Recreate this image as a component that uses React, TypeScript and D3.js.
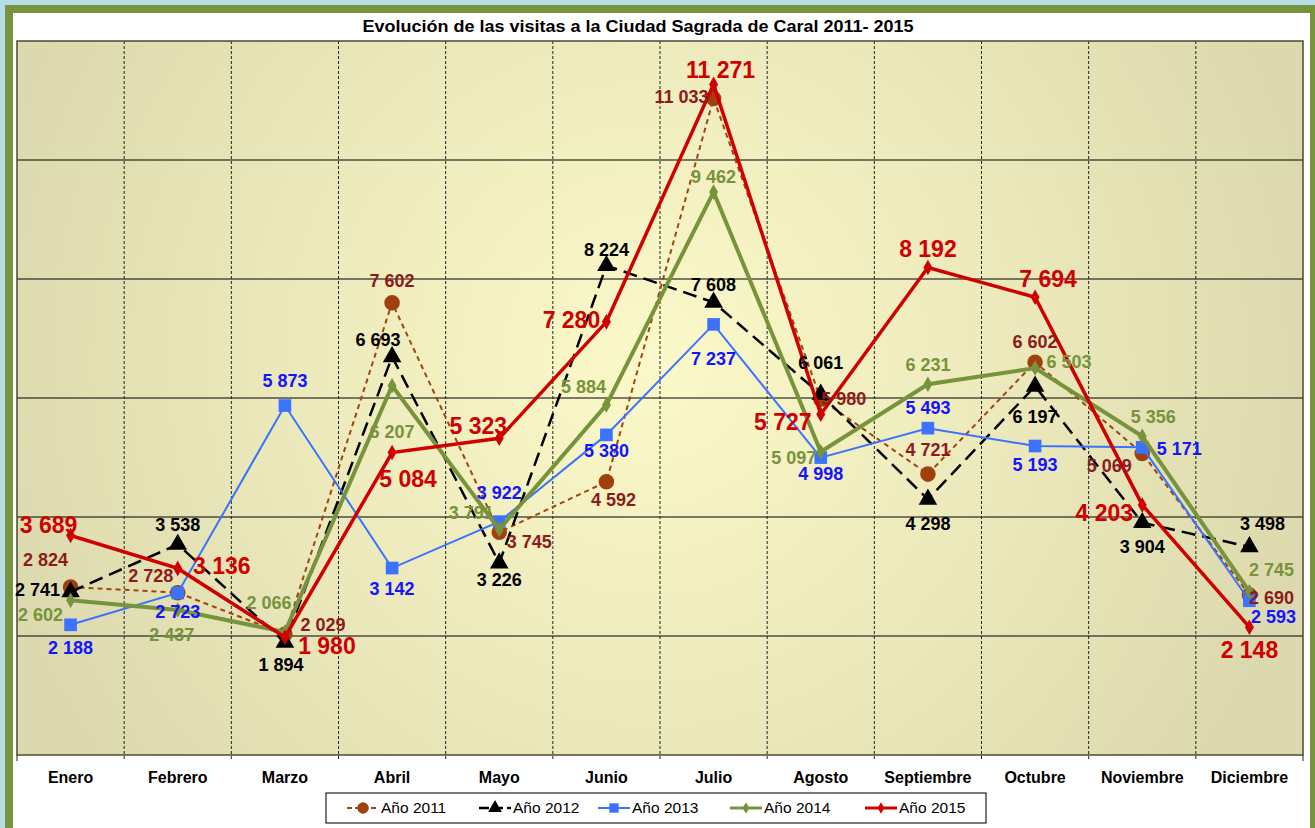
import * as React from 'react';
import * as d3 from 'd3';

const months = ['Enero', 'Febrero', 'Marzo', 'Abril', 'Mayo', 'Junio', 'Julio', 'Agosto', 'Septiembre', 'Octubre', 'Noviembre', 'Diciembre'];

const visits2011 = [2824, 2728, 2029, 7602, 3745, 4592, 11033, 5980, 4721, 6602, 5069, 2690];
const visits2012 = [2741, 3538, 1894, 6693, 3226, 8224, 7608, 6061, 4298, 6197, 3904, 3498];
const visits2013 = [2188, 2723, 5873, 3142, 3922, 5380, 7237, 4998, 5493, 5193, 5171, 2593];
const visits2014 = [2602, 2437, 2066, 6207, 3791, 5884, 9462, 5097, 6231, 6503, 5356, 2745];
const visits2015 = [3689, 3136, 1980, 5084, 5323, 7280, 11271, 5727, 8192, 7694, 4203, 2148];

const seriesNames = ['Año 2011', 'Año 2012', 'Año 2013', 'Año 2014', 'Año 2015'];
const yTicks = [2000, 4000, 6000, 8000, 10000];

const title = 'Evolución de las visitas a la Ciudad Sagrada de Caral 2011- 2015';

// label nudges in px, [dx, dy] relative to the marker
const labelNudge: number[][][] = [
    [[-25, -27], [-27, -17], [38, -10], [0, -22], [30, 10], [7, 18], [-32, -2], [23, 0], [0, -24], [0, -20], [-33, 12], [22, 3]],
    [[-33, -2], [0, -20], [-4, 22], [-14, -17], [0, 17], [0, -16], [0, -18], [0, -32], [0, 24], [0, 30], [0, 24], [13, -23]],
    [[0, 23], [0, 19], [0, -25], [0, 21], [0, -29], [0, 16], [0, 34], [0, 16], [0, -20], [0, 19], [37, 1], [24, 16]],
    [[-30, 15], [-6, 25], [-16, -29], [0, 46], [-28, -17], [-23, -18], [0, -15], [-27, 6], [0, -20], [34, -6], [11, -20], [22, -22]],
    [[-22, -11], [44, -2], [42, 9], [16, 26], [-21, -12], [-35, -2], [7, -14], [-38, 8], [0, -19], [13, -18], [-38, 8], [0, 23]],
];

const plot = { left: 17, right: 1303, top: 41, bottom: 755 };

type Style = {
    stroke: string, width: number, dash?: string, label: string, fontSize: number,
    marker: 'circle' | 'triangle' | 'square' | 'diamond', markerFill: string, markerSize: number,
};

const styles: Style[] = [
    { stroke: '#a24410', width: 2, dash: '5,4', label: '#8c1c1c', fontSize: 18, marker: 'circle', markerFill: '#a0410d', markerSize: 190 },
    { stroke: '#000000', width: 2.5, dash: '14,7', label: '#000000', fontSize: 18, marker: 'triangle', markerFill: '#000000', markerSize: 150 },
    { stroke: '#3b73ff', width: 2, label: '#1414ff', fontSize: 18, marker: 'square', markerFill: '#3b73ff', markerSize: 160 },
    { stroke: '#77933c', width: 4, label: '#77933c', fontSize: 18, marker: 'diamond', markerFill: '#77933c', markerSize: 70 },
    { stroke: '#d00000', width: 3.5, label: '#d00000', fontSize: 23, marker: 'diamond', markerFill: '#d00000', markerSize: 70 },
];

const symbolFor = (m: Style['marker']) =>
    m === 'circle' ? d3.symbolCircle : m === 'triangle' ? d3.symbolTriangle : m === 'square' ? d3.symbolSquare : d3.symbolDiamond;

const fmt = (v: number) => d3.format(',')(v).replace(/,/g, ' ');

export default function App() {
    const allSeries = [visits2011, visits2012, visits2013, visits2014, visits2015];

    const x = d3.scaleBand<string>().domain(months).range([plot.left, plot.right]);
    const y = d3.scaleLinear().domain([0, 12000]).range([plot.bottom, plot.top]);
    const cx = (i: number) => (x(months[i]) || 0) + x.bandwidth() / 2;

    const line = d3.line<number>()
        .x((_, i) => cx(i))
        .y(d => y(d));

    const legendX = [347, 479, 598, 730, 865];
    const font = '"Liberation Sans", Arial, sans-serif';

    return (
        <svg width={1315} height={828} style={{ position: 'absolute', left: 0, top: 0, fontFamily: font }}>
            <defs>
                <radialGradient id="bg" gradientUnits="userSpaceOnUse" cx={650} cy={360} r={680}>
                    <stop offset="0" stopColor="#fbf9c9" />
                    <stop offset="0.55" stopColor="#ebe8bb" />
                    <stop offset="1" stopColor="#dcd9ae" />
                </radialGradient>
            </defs>
            <rect x={0} y={0} width={1315} height={828} fill="#b5dce7" />
            <rect x={9} y={9} width={1305} height={900} fill="#ffffff" stroke="#77933c" strokeWidth={8} />

            <text x={638} y={32} textAnchor="middle" fontSize={17} fontWeight="bold" textLength={551} lengthAdjust="spacingAndGlyphs">{title}</text>

            <rect x={plot.left} y={plot.top} width={plot.right - plot.left} height={plot.bottom - plot.top} fill="url(#bg)" />

            {yTicks.map(t => (
                <line key={t} x1={plot.left} x2={plot.right} y1={y(t)} y2={y(t)} stroke="#000" strokeWidth={1} />
            ))}
            {months.slice(1).map(m => (
                <line key={m} x1={x(m)} x2={x(m)} y1={plot.top} y2={plot.bottom + 6} stroke="#222" strokeWidth={1} strokeDasharray="3,2" />
            ))}
            <line x1={plot.left} x2={plot.left} y1={plot.bottom} y2={plot.bottom + 6} stroke="#222" />
            <line x1={plot.right} x2={plot.right} y1={plot.bottom} y2={plot.bottom + 6} stroke="#222" />
            <rect x={plot.left} y={plot.top} width={plot.right - plot.left} height={plot.bottom - plot.top} fill="none" stroke="#4b4a30" strokeWidth={1.5} />

            {months.map(m => (
                <text key={m} x={(x(m) || 0) + x.bandwidth() / 2} y={783} textAnchor="middle" fontSize={16} fontWeight="bold">{m}</text>
            ))}

            {allSeries.map((vals, s) => (
                <g key={s}>
                    <path d={line(vals) || ''} fill="none" stroke={styles[s].stroke} strokeWidth={styles[s].width} strokeDasharray={styles[s].dash} />
                    {vals.map((v, i) => (
                        <path key={i} transform={`translate(${cx(i)},${y(v)})`} d={d3.symbol(symbolFor(styles[s].marker), styles[s].markerSize)() || ''} fill={styles[s].markerFill} />
                    ))}
                </g>
            ))}

            {allSeries.map((vals, s) => (
                <g key={'l' + s} fontWeight="bold" fontSize={styles[s].fontSize} fill={styles[s].label} textAnchor="middle">
                    {vals.map((v, i) => (
                        <text key={i} x={cx(i) + labelNudge[s][i][0]} y={y(v) + labelNudge[s][i][1]} dy="0.35em">{fmt(v)}</text>
                    ))}
                </g>
            ))}

            <rect x={326} y={793} width={660} height={30} fill="#fff" stroke="#222" strokeWidth={1.2} />
            {seriesNames.map((n, s) => (
                <g key={n} transform={`translate(${legendX[s]},808)`}>
                    <line x1={0} x2={32} y1={0} y2={0} stroke={styles[s].stroke} strokeWidth={Math.min(styles[s].width, 3)} strokeDasharray={styles[s].dash ? (s === 0 ? '5,3' : '10,4') : undefined} />
                    <path transform="translate(16,0)" d={d3.symbol(symbolFor(styles[s].marker), styles[s].markerSize * 0.55)() || ''} fill={styles[s].markerFill} />
                    <text x={34} y={0} dy="0.35em" fontSize={15.5}>{n}</text>
                </g>
            ))}
        </svg>
    );
}
